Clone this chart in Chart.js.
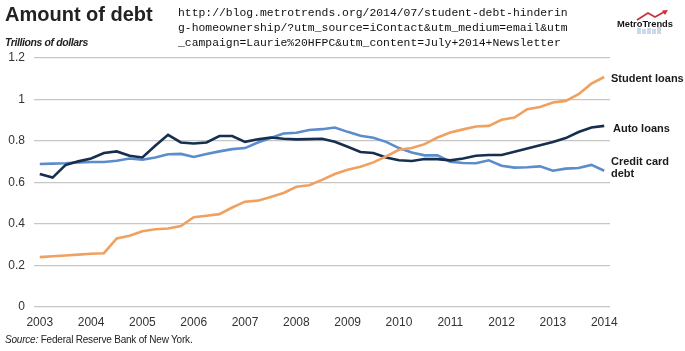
<!DOCTYPE html>
<html>
<head>
<meta charset="utf-8">
<script src="https://cdn.jsdelivr.net/npm/chart.js@4/dist/chart.umd.min.js"></script>
<style>
  html, body { margin: 0; padding: 0; background: #fff; }
  #wrap { position: relative; width: 685px; height: 351px; overflow: hidden; font-family: "Liberation Sans", Arial, sans-serif; }
  #chart { position: absolute; left: 0; top: 0; }
  .txt { position: absolute; white-space: nowrap; color: #1a1a1a; }
  #title { left: 5px; top: 3px; font-size: 20px; font-weight: bold; color: #222; }
  #units { left: 5px; top: 36px; font-size: 10.5px; font-style: italic; font-weight: bold; color: #222; letter-spacing: -0.4px; }
  #url { left: 178px; top: 6px; font-family: "Liberation Mono", "Courier New", monospace; font-size: 11.4px; line-height: 15px; color: #111; }
  .lab { font-size: 11px; font-weight: bold; line-height: 12px; }
  #source { left: 5px; top: 334px; font-size: 10px; color: #222; letter-spacing: -0.2px; }
</style>
</head>
<body>
<div id="wrap">
  <canvas id="chart" width="685" height="351"></canvas>
  <div class="txt" id="title">Amount of debt</div>
  <div class="txt" id="units">Trillions of dollars</div>
  <div class="txt" id="url">http://blog.metrotrends.org/2014/07/student-debt-hinderin<br>g-homeownership/?utm_source=iContact&amp;utm_medium=email&amp;utm<br>_campaign=Laurie%20HFPC&amp;utm_content=July+2014+Newsletter</div>
  <svg style="position:absolute;left:612px;top:0px" width="70" height="40">
    <polyline points="25,20 36,13 43,17 52,12" fill="none" stroke="#c8343a" stroke-width="1.8"/>
    <polygon points="56,10 50,10.5 53,15" fill="#c8343a"/>
    <g fill="#c9d8ea">
      <rect x="25" y="28" width="4" height="6"/><rect x="30" y="29" width="4" height="5"/>
      <rect x="35" y="28" width="4" height="6"/><rect x="40" y="29" width="4" height="5"/>
      <rect x="45" y="27" width="4" height="7"/>
    </g>
    <text x="33" y="27" text-anchor="middle" font-family="Liberation Sans, Arial" font-size="9.5" font-weight="bold" fill="#151515" textLength="56" lengthAdjust="spacingAndGlyphs">MetroTrends</text>
  </svg>
  <div class="txt lab" style="left:611px;top:72px">Student loans</div>
  <div class="txt lab" style="left:613px;top:122px">Auto loans</div>
  <div class="txt lab" style="left:611px;top:155px">Credit card<br>debt</div>
  <div class="txt" id="source"><i>Source:</i> Federal Reserve Bank of New York.</div>
</div>
<script>
// quarterly, 2003 Q1 .. 2014 Q1
const yearLabels = ['2003', '2004', '2005', '2006', '2007', '2008', '2009', '2010', '2011', '2012', '2013', '2014'];

const studentLoans = [
    0.240, 0.244, 0.248, 0.252, 0.256, 0.259, 0.330, 0.343, 0.365, 0.374, 0.378, 0.390,
    0.432, 0.439, 0.447, 0.479, 0.507, 0.512, 0.530, 0.549, 0.579, 0.586, 0.612, 0.640,
    0.661, 0.675, 0.696, 0.725, 0.757, 0.765, 0.784, 0.816, 0.840, 0.855, 0.869, 0.872,
    0.901, 0.912, 0.952, 0.963, 0.984, 0.992, 1.024, 1.075, 1.107
];
const autoLoans = [
    0.640, 0.623, 0.683, 0.701, 0.715, 0.741, 0.749, 0.728, 0.720, 0.776, 0.829, 0.792,
    0.787, 0.792, 0.823, 0.823, 0.795, 0.807, 0.816, 0.810, 0.807, 0.808, 0.810, 0.795,
    0.771, 0.746, 0.741, 0.720, 0.706, 0.703, 0.712, 0.712, 0.706, 0.715, 0.728, 0.732,
    0.732, 0.747, 0.763, 0.779, 0.794, 0.813, 0.842, 0.864, 0.872
];
const creditCard = [
    0.688, 0.690, 0.692, 0.696, 0.698, 0.698, 0.704, 0.715, 0.709, 0.720, 0.735, 0.737,
    0.722, 0.736, 0.749, 0.760, 0.765, 0.792, 0.813, 0.835, 0.839, 0.852, 0.856, 0.864,
    0.843, 0.824, 0.815, 0.795, 0.765, 0.744, 0.730, 0.730, 0.699, 0.693, 0.692, 0.706,
    0.680, 0.671, 0.673, 0.677, 0.656, 0.666, 0.669, 0.684, 0.656
];

function toPoints(values) {
    return values.map((v, i) => ({ x: i, y: v }));
}

const ctx = document.getElementById('chart').getContext('2d');
const chart = new Chart(ctx, {
    type: 'line',
    data: {
        datasets: [
            { label: 'Student loans', data: toPoints(studentLoans), borderColor: '#f0a160' },
            { label: 'Auto loans', data: toPoints(autoLoans), borderColor: '#172f4f' },
            { label: 'Credit card debt', data: toPoints(creditCard), borderColor: '#5b8ccb' }
        ]
    },
    options: {
        responsive: false,
        animation: false,
        elements: {
            line: { borderWidth: 2.6, tension: 0 },
            point: { radius: 0 }
        },
        layout: {
            padding: { left: 0, right: 75, top: 57.7, bottom: 0 }
        },
        plugins: {
            legend: { display: false },
            title: { display: false },
            tooltip: { enabled: false }
        },
        scales: {
            x: {
                type: 'linear',
                min: -0.45,
                max: 44.45,
                afterBuildTicks: function (scale) {
                    scale.ticks = yearLabels.map((y, i) => ({ value: i * 4 }));
                },
                afterFit: function (scale) { scale.height = 44; },
                grid: { display: false, drawTicks: false },
                border: { display: false },
                ticks: {
                    color: '#333',
                    font: { family: 'Liberation Sans', size: 12 },
                    padding: 8,
                    maxRotation: 0,
                    callback: function (v) { return yearLabels[Math.round(v / 4)]; }
                }
            },
            y: {
                min: 0,
                max: 1.2,
                afterFit: function (scale) { scale.width = 34; },
                grid: { color: '#c6c6c6', lineWidth: 1.3, drawTicks: false },
                border: { display: false },
                ticks: {
                    stepSize: 0.2,
                    color: '#333',
                    font: { family: 'Liberation Sans', size: 12 },
                    padding: 9,
                    callback: function (v) { return +v.toFixed(1); }
                }
            }
        }
    }
});
</script>
</body>
</html>
